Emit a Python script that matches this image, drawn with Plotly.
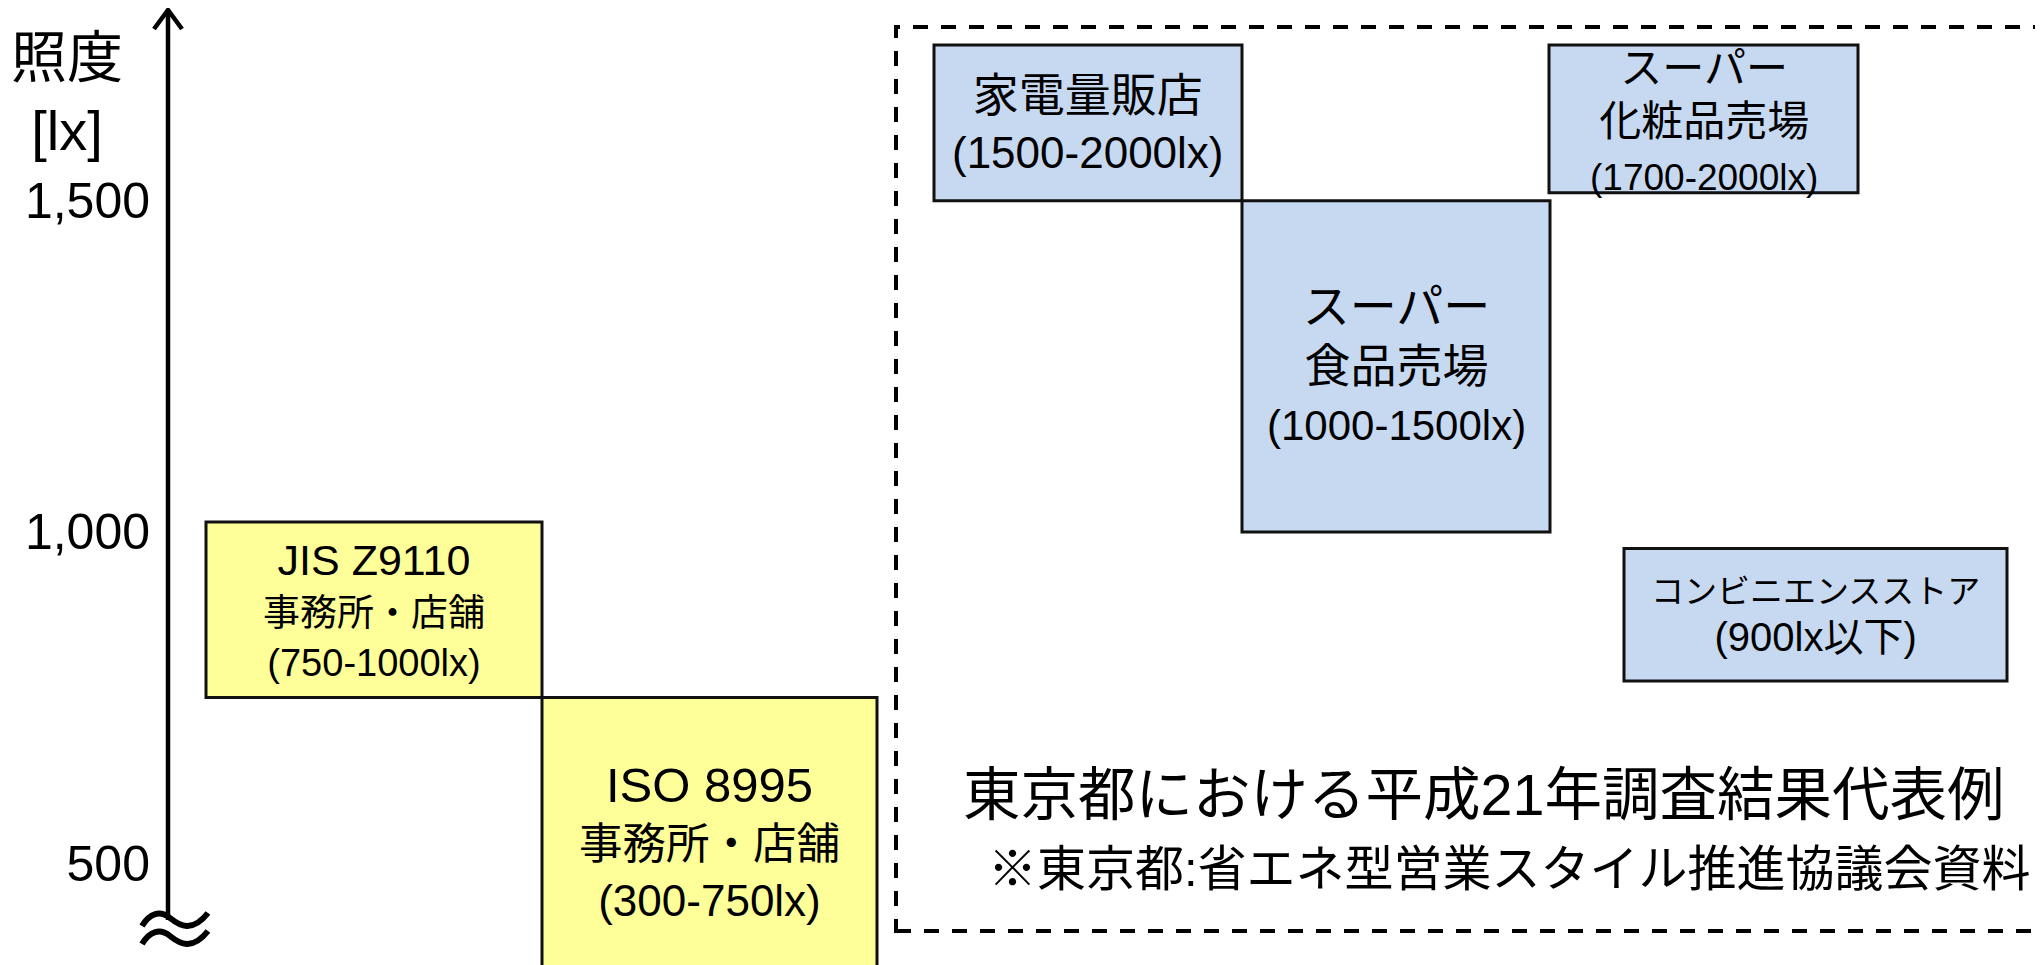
import plotly.graph_objects as go

# ---------------- data ----------------
box_names = ["JIS Z9110", "ISO 8995", "家電量販店", "スーパー食品売場",
             "スーパー化粧品売場", "コンビニエンスストア"]
box_low = [750, 300, 1500, 1000, 1512, 775]      # lx (as drawn)
box_high = [1015, 750, 1735, 1500, 1735, 975]    # lx (as drawn)
box_group = ["standard", "standard", "survey", "survey", "survey", "survey"]
box_lines = [
    ["JIS Z9110", "事務所・店舗", "(750-1000lx)"],
    ["ISO 8995", "事務所・店舗", "(300-750lx)"],
    ["家電量販店", "(1500-2000lx)"],
    ["スーパー", "食品売場", "(1000-1500lx)"],
    ["スーパー", "化粧品売場", "(1700-2000lx)"],
    ["コンビニエンスストア", "(900lx以下)"],
]
tick_vals = [500, 1000, 1500]
tick_text = ["500", "1,000", "1,500"]
axis_title = "照度<br>[lx]"
title_text = "東京都における平成21年調査結果代表例"
note_text = "※東京都:省エネ型営業スタイル推進協議会資料"

# ---------------- layout / style ----------------
W, H = 2043, 965
OFF = 8  # page body margin compensation
Y_RANGE = [334.3, 1790.9]
FONT = "Liberation Sans, Arial, Noto Sans CJK JP, sans-serif"
box_x = [(206, 542), (542, 877), (934, 1242), (1242, 1550), (1549, 1858), (1624, 2007)]
fill_col = {"standard": "#FFFF99", "survey": "#C6D9F1"}
label_base = [39, 44, 44, 45, 41, 37]
label_sizes = [[43, 37, 38], [49, 43.5, 44], [46, 44], [47, 46, 42], [42, 42, 37], [33, 40]]
label_yshift = [0, -6, 0, 2, -3, -1]
AXIS_X = 168


def px(x):
    """screen column -> x data units"""
    return x - OFF


def py(y):
    """screen row -> paper y"""
    return 1 - (y - OFF) / H


fig = go.Figure()
fig.add_trace(go.Scatter(x=[0, W], y=Y_RANGE, mode="markers",
                         marker=dict(opacity=0), hoverinfo="skip", showlegend=False))

shapes = []
annotations = []

# dashed frame around survey examples
shapes.append(dict(type="rect", xref="x", yref="paper", x0=px(896), x1=px(2042),
                   y0=py(931), y1=py(27),
                   line=dict(color="black", width=4, dash="15px,13px"),
                   fillcolor="rgba(0,0,0,0)", layer="below"))

for i, name in enumerate(box_names):
    x0, x1 = px(box_x[i][0]), px(box_x[i][1])
    shapes.append(dict(type="rect", xref="x", yref="y", x0=x0, x1=x1,
                       y0=box_low[i], y1=box_high[i],
                       fillcolor=fill_col[box_group[i]],
                       line=dict(color="#111111", width=3), layer="below"))
    lines = [f'<span style="font-size:{s}px">{t}</span>'
             for t, s in zip(box_lines[i], label_sizes[i])]
    ymid = (max(box_low[i], Y_RANGE[0]) + min(box_high[i], Y_RANGE[1])) / 2
    annotations.append(dict(x=(x0 + x1) / 2, y=ymid, xref="x", yref="y",
                            text="<br>".join(lines), showarrow=False,
                            xanchor="center", yanchor="middle",
                            yshift=label_yshift[i], align="center",
                            font=dict(family=FONT, size=label_base[i], color="black")))

# y axis line with open arrow head
shapes.append(dict(type="line", xref="x", yref="paper", x0=px(AXIS_X), x1=px(AXIS_X),
                   y0=py(920), y1=py(11), line=dict(color="black", width=4.5)))
shapes.append(dict(type="path", xref="x", yref="paper",
                   path=f"M {px(154)},{py(29)} L {px(AXIS_X)},{py(10)} L {px(182)},{py(29)}",
                   line=dict(color="black", width=4.5)))
# axis break mark (double tilde)
for dy in (0, 18):
    path = (f"M {px(142)},{py(926+dy)} C {px(150)},{py(913+dy)} {px(160)},{py(910+dy)} "
            f"{px(170)},{py(918+dy)} S {px(192)},{py(933+dy)} {px(208)},{py(913+dy)}")
    shapes.append(dict(type="path", xref="x", yref="paper", path=path,
                       line=dict(color="black", width=6)))

annotations.append(dict(x=px(67), y=py(94), xref="x", yref="paper", text=axis_title,
                        showarrow=False, xanchor="center", yanchor="middle",
                        font=dict(family=FONT, size=56, color="black")))
annotations.append(dict(x=px(1483), y=py(795), xref="x", yref="paper", text=title_text,
                        showarrow=False, xanchor="center", yanchor="middle",
                        font=dict(family=FONT, size=57.5, color="black")))
annotations.append(dict(x=px(2033), y=py(869), xref="x", yref="paper", text=note_text,
                        showarrow=False, xanchor="right", yanchor="middle",
                        font=dict(family=FONT, size=49, color="black")))

fig.update_layout(
    width=W, height=H, autosize=False,
    margin=dict(l=0, r=0, t=0, b=0, pad=0),
    paper_bgcolor="white", plot_bgcolor="white",
    showlegend=False,
    shapes=shapes, annotations=annotations,
    xaxis=dict(range=[0, W], visible=False, domain=[0, 1], fixedrange=True),
    yaxis=dict(range=Y_RANGE, anchor="free", position=px(AXIS_X) / W,
               tickvals=tick_vals, ticktext=tick_text, ticks="",
               ticklabelstandoff=18, showline=False, showgrid=False,
               zeroline=False, automargin=False, fixedrange=True,
               tickfont=dict(family=FONT, size=50, color="black")),
)

fig.write_html("out.html")
